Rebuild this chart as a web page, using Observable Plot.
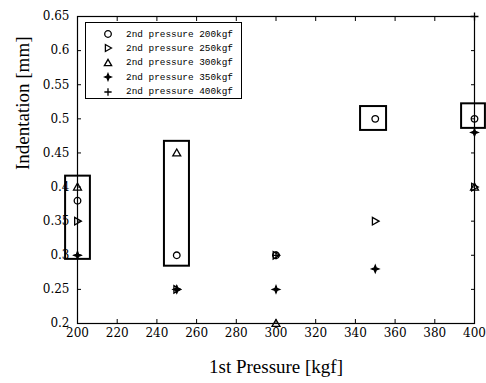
<!DOCTYPE html>
<html>
<head>
<meta charset="utf-8">
<script src="https://cdn.jsdelivr.net/npm/d3@7"></script>
<script src="https://cdn.jsdelivr.net/npm/@observablehq/plot@0.6"></script>
<style>
  html, body { margin: 0; padding: 0; background: #fff; }
  #wrap { position: relative; width: 486px; height: 383px; }
  #legend { position: absolute; left: 85px; top: 22px; width: 157px; height: 77px;
    border: 1px solid #000; background: #fff; box-sizing: border-box;
    font-family: "Liberation Mono", monospace; font-size: 9.4px; color: #000; }
  .row { position: absolute; left: 0; height: 14px; display: flex; align-items: center; white-space: nowrap; }
  .row svg { margin-left: 17px; margin-right: 13px; }
</style>
</head>
<body>
<div id="wrap"><div id="legend"></div></div>
<script>
// ---- data ----
const firstPressure = [200, 250, 300, 350, 400];
const seriesNames = ["2nd pressure 200kgf", "2nd pressure 250kgf", "2nd pressure 300kgf", "2nd pressure 350kgf", "2nd pressure 400kgf"];
const ind200 = [0.38, 0.30, 0.30, 0.50, 0.50];
const ind250 = [0.35, 0.25, 0.30, 0.35, 0.40];
const ind300 = [0.40, 0.45, 0.20, null, 0.40];
const ind350 = [0.30, 0.25, 0.25, 0.28, 0.48];
const ind400 = [0.30, 0.25, 0.30, null, 0.65];
const xTicks = [200, 220, 240, 260, 280, 300, 320, 340, 360, 380, 400];
const yTicks = [0.2, 0.25, 0.3, 0.35, 0.4, 0.45, 0.5, 0.55, 0.6, 0.65];
const yTickLabels = ["0.2", "0.25", "0.3", "0.35", "0.4", "0.45", "0.5", "0.55", "0.6", "0.65"];
// highlight boxes (data coordinates)
const boxX1 = [194, 243.8, 342.6, 393.5];
const boxX2 = [206.5, 256.4, 355.7, 405.5];
const boxY1 = [0.294, 0.284, 0.483, 0.486];
const boxY2 = [0.416, 0.467, 0.518, 0.522];
const xLabel = "1st Pressure [kgf]";
const yLabel = "Indentation [mm]";

// ---- symbols ----
const triRight = {
  draw(ctx, size) {
    const r = Math.sqrt(size / Math.PI) * 1.05;
    ctx.moveTo(r, 0);
    ctx.lineTo(-r * 0.75, -r);
    ctx.lineTo(-r * 0.75, r);
    ctx.closePath();
  }
};
const triUp = {
  draw(ctx, size) {
    const r = Math.sqrt(size / Math.PI) * 1.1;
    ctx.moveTo(0, -r);
    ctx.lineTo(r, r * 0.75);
    ctx.lineTo(-r, r * 0.75);
    ctx.closePath();
  }
};
const star4 = {
  draw(ctx, size) {
    const r = Math.sqrt(size / Math.PI);
    const w = r * 0.28;
    ctx.moveTo(0, -r); ctx.lineTo(w, -w); ctx.lineTo(r, 0); ctx.lineTo(w, w);
    ctx.lineTo(0, r); ctx.lineTo(-w, w); ctx.lineTo(-r, 0); ctx.lineTo(-w, -w);
    ctx.closePath();
  }
};
const plusSym = {
  draw(ctx, size) {
    const r = Math.sqrt(size / Math.PI) * 1.1;
    ctx.moveTo(-r, 0); ctx.lineTo(r, 0);
    ctx.moveTo(0, -r); ctx.lineTo(0, r);
  }
};
const symbols = [d3.symbolCircle, triRight, triUp, star4, plusSym];
const fills = ["none", "none", "none", "black", "none"];
const seriesVals = [ind200, ind250, ind300, ind350, ind400];

const points = [];
seriesVals.forEach((vals, s) => vals.forEach((v, i) => { if (v != null) points.push({x: firstPressure[i], y: v, s}); }));
const boxes = boxX1.map((x1, i) => ({x1, x2: boxX2[i], y1: boxY1[i], y2: boxY2[i]}));

const serif = "'Liberation Serif', 'Times New Roman', serif";
const tickFont = "'DejaVu Serif', serif";

const dotMarks = symbols.map((sym, s) => Plot.dot(points.filter(p => p.s === s), {
  x: "x", y: "y", symbol: () => sym, r: s === 0 ? 3.3 : 3.6,
  stroke: "black", fill: fills[s], strokeWidth: 1.3
}));

const chart = Plot.plot({
  width: 486, height: 383,
  marginLeft: 77, marginRight: 12, marginTop: 16, marginBottom: 60,
  style: {fontFamily: serif, fontSize: "13px", color: "black", background: "white"},
  x: {domain: [200, 400]},
  y: {domain: [0.2, 0.65]},
  symbol: {type: "identity"},
  marks: [
    Plot.frame({stroke: "black", strokeWidth: 1.2}),
    Plot.axisX({ticks: xTicks, tickSize: -4, tickPadding: 9, label: null, fontSize: 12, fontFamily: tickFont}),
    Plot.axisX({anchor: "top", ticks: xTicks, tickSize: -4, tickFormat: () => "", label: null}),
    Plot.axisY({ticks: yTicks, tickSize: -4, tickPadding: 12, label: null, fontSize: 12, fontFamily: tickFont,
      tickFormat: d => yTickLabels[yTicks.findIndex(t => Math.abs(t - d) < 1e-9)]}),
    Plot.axisY({anchor: "right", ticks: yTicks, tickSize: -4, tickFormat: () => "", label: null}),
    Plot.rect(boxes, {x1: "x1", x2: "x2", y1: "y1", y2: "y2", fill: "none", stroke: "black", strokeWidth: 2}),
    ...dotMarks,
    Plot.text([xLabel], {text: d => d, frameAnchor: "bottom", dy: 49, fontSize: 19, fontFamily: serif}),
    Plot.text([yLabel], {text: d => d, frameAnchor: "left", dx: -55, rotate: -90, fontSize: 19, fontFamily: serif})
  ]
});
document.getElementById("wrap").prepend(chart);

// ---- legend ----
const legend = d3.select("#legend");
seriesNames.forEach((name, s) => {
  const row = legend.append("div").attr("class", "row").style("top", (4 + s * 14.4) + "px");
  const svg = row.append("svg").attr("width", 10).attr("height", 10);
  svg.append("path")
    .attr("transform", "translate(5,5)")
    .attr("d", d3.symbol(symbols[s], Math.PI * 3.3 * 3.3)())
    .attr("fill", fills[s]).attr("stroke", "black").attr("stroke-width", 1.3);
  row.append("span").text(name);
});
</script>
</body>
</html>
